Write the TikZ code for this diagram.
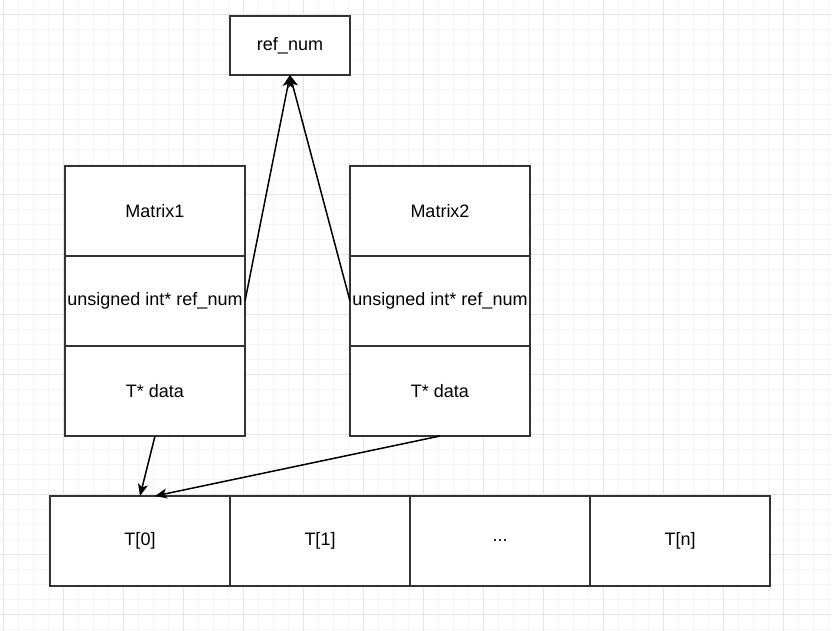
\documentclass[tikz,border=0pt]{standalone}
\usepackage{fontspec}
\setmainfont{Liberation Sans}
\usetikzlibrary{positioning,arrows.meta}

\begin{document}
\begin{tikzpicture}[x=1pt,y=-1pt,
	cell/.style={draw=black!80,line width=1.5pt,fill=white,minimum width=180pt,minimum height=90pt,inner sep=1pt,outer sep=0pt,font=\fontsize{18}{21}\selectfont},
	link/.style={draw=black,line width=1.5pt,-{Stealth[length=12pt,width=10pt,inset=3pt]}}]
	\useasboundingbox (0,0) rectangle (832,631);
	\fill[white] (0,0) rectangle (832,631);
	\foreach \gx in {3.3,18.3,...,832} \draw[black!4,line width=1pt] (\gx,0) -- (\gx,631);
	\foreach \gy in {14.3,29.3,...,631} \draw[black!4,line width=1pt] (0,\gy) -- (832,\gy);
	\foreach \gx in {3.3,63.3,...,832} \draw[black!10,line width=1pt] (\gx,0) -- (\gx,631);
	\foreach \gy in {14.3,74.3,...,631} \draw[black!10,line width=1pt] (0,\gy) -- (832,\gy);
	\node[cell,minimum width=120pt,minimum height=59pt] (ref) at (290,45.5) {ref\_num};
	\node[cell] (m1a) at (155,211) {Matrix1};
	\node[cell,below=0pt of m1a] (m1b) {unsigned int* ref\_num};
	\node[cell,below=0pt of m1b] (m1c) {T* data};
	\node[cell] (m2a) at (440,211) {Matrix2};
	\node[cell,below=0pt of m2a] (m2b) {unsigned int* ref\_num};
	\node[cell,below=0pt of m2b] (m2c) {T* data};
	\node[cell] (t0) at (140,541) {T[0]};
	\node[cell,right=0pt of t0] (t1) {T[1]};
	\node[cell,right=0pt of t1] (t2) {...};
	\node[cell,right=0pt of t2] (tn) {T[n]};
	\coordinate (t0in) at ([xshift=15]t0.north);
	\draw[link] (m1b.east) -- (ref.south);
	\draw[link] (m2b.west) -- (ref.south);
	\draw[link] (m1c.south) -- (t0.north);
	\draw[link] (m2c.south) -- (t0in);
\end{tikzpicture}
\end{document}
